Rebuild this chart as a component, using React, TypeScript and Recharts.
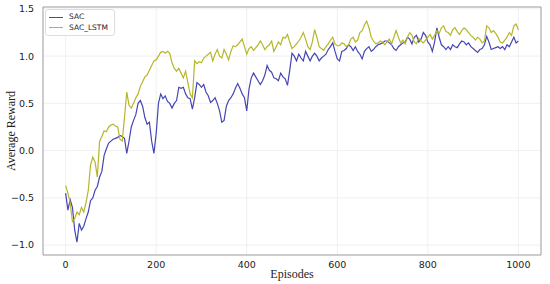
import React from 'react';
import { LineChart, Line, XAxis, YAxis, CartesianGrid, ReferenceArea } from 'recharts';

// episodes sampled every 5
const episodes = Array.from({ length: 201 }, (_, i) => i * 5);

const sacValues = [
    -0.45, -0.63, -0.52, -0.6, -0.84, -0.97, -0.77, -0.84, -0.8, -0.72,
    -0.65, -0.53, -0.5, -0.42, -0.38, -0.28, -0.22, -0.05, 0.02, 0.08,
    0.1, 0.12, 0.13, 0.14, 0.16, 0.15, 0.13, -0.03, 0.1, 0.25,
    0.32, 0.38, 0.5, 0.53, 0.47, 0.35, 0.28, 0.3, 0.1, -0.03,
    0.18, 0.5, 0.6, 0.55, 0.58, 0.52, 0.5, 0.45, 0.5, 0.53,
    0.67, 0.66, 0.67, 0.6, 0.56, 0.55, 0.44, 0.56, 0.72, 0.7,
    0.67, 0.7, 0.62, 0.58, 0.51, 0.53, 0.56, 0.5, 0.42, 0.3,
    0.32, 0.47, 0.53, 0.56, 0.6, 0.66, 0.71, 0.66, 0.6, 0.56,
    0.42, 0.65, 0.77, 0.82, 0.78, 0.74, 0.7, 0.74, 0.8, 0.9,
    0.85, 0.83, 0.77, 0.76, 0.74, 0.82, 0.78, 0.76, 0.69, 0.85,
    1.03, 1.0, 0.95, 1.02, 0.98, 0.95, 1.05, 1.0, 0.95, 1.0,
    1.03, 1.0, 0.95, 0.98, 1.0, 1.02, 1.07, 1.1, 1.14, 1.05,
    0.97, 0.95, 1.05, 1.06, 1.08, 1.12, 1.1, 1.06, 1.1, 1.05,
    1.02, 0.97, 1.05, 1.08, 1.1, 1.05, 1.07, 1.1, 1.12, 1.13,
    1.14, 1.16, 1.16, 1.14, 1.12, 1.08, 1.06, 1.1, 1.12, 1.14,
    1.15, 1.2, 1.18, 1.13, 1.2, 1.22, 1.15, 1.18, 1.25, 1.22,
    1.15, 1.12, 1.05, 1.15, 1.3, 1.2, 1.12, 1.1, 1.07, 1.1,
    1.07, 1.12, 1.1, 1.09, 1.13, 1.16, 1.15, 1.12, 1.14, 1.1,
    1.08, 1.06, 1.04, 1.07, 1.08, 1.12, 1.21, 1.15, 1.07, 1.08,
    1.09, 1.1, 1.08, 1.1, 1.07, 1.12, 1.1, 1.15, 1.2, 1.14,
    1.16,
];

const sacLstmValues = [
    -0.37, -0.45, -0.55, -0.75, -0.72, -0.65, -0.68, -0.6, -0.65, -0.55,
    -0.42, -0.15, -0.07, -0.12, -0.28, 0.1, 0.15, 0.21, 0.2, 0.25,
    0.27, 0.28, 0.26, 0.25, 0.12, 0.1, 0.35, 0.62, 0.48, 0.45,
    0.5, 0.56, 0.6, 0.68, 0.73, 0.78, 0.8, 0.85, 0.9, 0.95,
    0.96, 1.0, 1.04, 1.05, 1.03, 1.05, 1.03, 0.93, 0.87, 0.84,
    0.87, 0.82, 0.77, 0.84, 0.72, 0.6, 0.56, 0.95, 0.92, 0.94,
    0.93, 0.98, 1.0, 1.02, 1.04, 0.95, 1.02, 1.07, 1.0, 0.98,
    1.07, 1.02, 0.96, 1.05, 1.11, 1.1, 1.12, 1.15, 1.18, 1.1,
    1.02, 1.08, 1.1, 1.06, 1.09, 1.12, 1.16, 1.12, 1.07, 1.1,
    1.12, 1.16, 1.05, 1.1, 1.15, 1.12, 1.2, 1.19, 1.23, 1.15,
    1.08, 1.1, 1.13, 1.16, 1.2, 1.25, 1.18, 1.1, 1.07, 1.15,
    1.28, 1.2, 1.1, 1.08, 1.06, 1.1, 1.13, 1.17, 1.2, 1.13,
    1.11, 1.11, 1.14, 1.13, 1.1, 1.12, 1.18, 1.2, 1.15, 1.17,
    1.25, 1.27, 1.33, 1.37, 1.3, 1.2, 1.16, 1.13, 1.14, 1.16,
    1.15, 1.12, 1.15, 1.18, 1.13, 1.2, 1.27, 1.2, 1.14, 1.17,
    1.13, 1.2, 1.25, 1.22, 1.15, 1.13, 1.19, 1.16, 1.14, 1.17,
    1.2, 1.23, 1.18, 1.22, 1.27, 1.24, 1.3, 1.32, 1.26, 1.25,
    1.22, 1.28, 1.3, 1.26, 1.23, 1.27, 1.3, 1.28, 1.25, 1.22,
    1.2, 1.17, 1.2, 1.18, 1.14, 1.16, 1.32, 1.3, 1.25, 1.27,
    1.24, 1.2, 1.15, 1.14, 1.17, 1.2, 1.25, 1.22, 1.32, 1.34,
    1.28,
];

const xTicks = [0, 200, 400, 600, 800, 1000];
const yTicks = [-1.0, -0.5, 0.0, 0.5, 1.0, 1.5];

const SAC_COLOR = '#4646b4';
const LSTM_COLOR = '#b6b62a';

const data = episodes.map((ep, i) => ({
    episode: ep,
    SAC: sacValues[i],
    SAC_LSTM: sacLstmValues[i],
}));

const tickStyle = { fill: '#222', fontSize: 9.5, fontFamily: 'DejaVu Sans' };

const fmtY = (v: number) => v.toFixed(1).replace('-', '\u2212');

const LegendBox = () => (
    <div style={{
        position: 'absolute', left: 45, top: 9,
        background: '#fff', border: '1px solid #ddd', borderRadius: 3,
        padding: '2px 6px 2px 3px', fontFamily: 'DejaVu Sans', fontSize: 7.5, color: '#222', lineHeight: '10.5px'
    }}>
        {[['SAC', SAC_COLOR], ['SAC_LSTM', LSTM_COLOR]].map(([name, color]) => (
            <div key={name} style={{ display: 'flex', alignItems: 'center' }}>
                <span style={{ display: 'inline-block', width: 14, height: 1.3, background: color, marginRight: 6 }} />
                {name}
            </div>
        ))}
    </div>
);

export default function App() {
    return (
        <div style={{ position: 'absolute', left: 0, top: 0, width: 550, height: 284, background: '#fff' }}>
            <style>{'body{margin:0}'}</style>
            <LineChart width={550} height={284} data={data} margin={{ top: 7, right: 9, left: 0, bottom: 0 }}>
                <CartesianGrid stroke="#ececec" strokeWidth={0.8} verticalValues={xTicks} horizontalValues={yTicks} />
                <XAxis
                    dataKey="episode"
                    type="number"
                    domain={[-50, 1050]}
                    ticks={xTicks}
                    axisLine={false}
                    tickLine={false}
                    height={29}
                    tick={tickStyle}
                    dy={-2}
                    allowDataOverflow
                />
                <YAxis
                    type="number"
                    domain={[-1.105, 1.52]}
                    ticks={yTicks}
                    tickFormatter={fmtY}
                    axisLine={false}
                    tickLine={false}
                    width={43}
                    tick={tickStyle}
                    dx={-1}
                    allowDataOverflow
                />
                <ReferenceArea x1={-50} x2={1050} y1={-1.105} y2={1.52} fill="none" stroke="#9a9a9a" strokeWidth={1} />
                <Line type="linear" dataKey="SAC" stroke={SAC_COLOR} strokeWidth={1.2} dot={false} isAnimationActive={false} />
                <Line type="linear" dataKey="SAC_LSTM" stroke={LSTM_COLOR} strokeWidth={1.2} dot={false} isAnimationActive={false} />
            </LineChart>
            <LegendBox />
            <svg width={550} height={284} style={{ position: 'absolute', left: 0, top: 0, pointerEvents: 'none' }}>
                <text x={292} y={278} textAnchor="middle" fontFamily="Liberation Serif" fontSize={12} fill="#222">Episodes</text>
                <text x={0} y={0} transform="translate(15,131) rotate(-90)" textAnchor="middle" fontFamily="Liberation Serif" fontSize={12} fill="#222">Average Reward</text>
            </svg>
        </div>
    );
}
